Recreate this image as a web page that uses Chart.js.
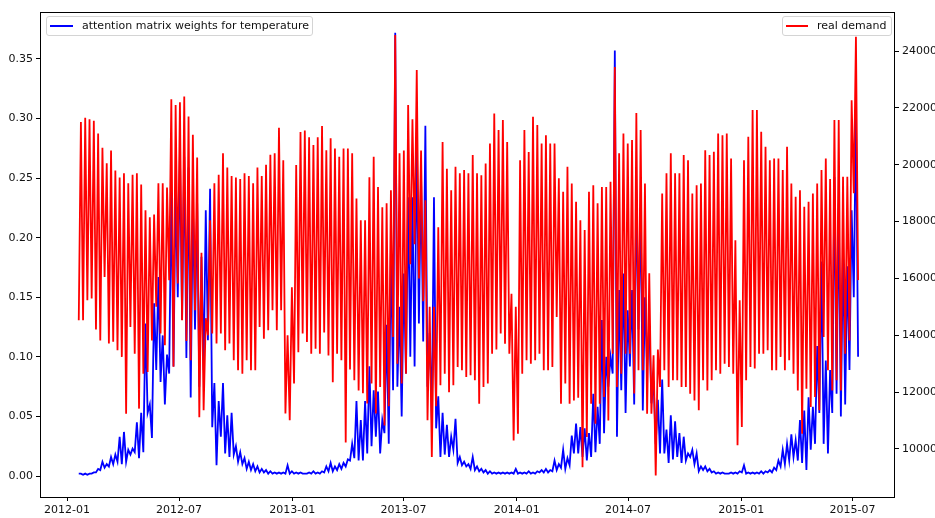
<!DOCTYPE html>
<html>
<head>
<meta charset="utf-8">
<title>attention weights vs demand</title>
<script src="https://cdn.jsdelivr.net/npm/chart.js@4.4.1/dist/chart.umd.min.js"></script>
<style>
  html, body { margin: 0; padding: 0; background: #fff; overflow: hidden; }
  #wrap { position: relative; width: 935px; height: 518px; overflow: hidden; }
  #chart { position: absolute; left: 0; top: 0; }
  .legend {
    position: absolute; top: 16px; height: 20px; box-sizing: border-box;
    border: 1px solid #d4d4d4; border-radius: 3px; background: rgba(255, 255, 255, 0.8);
    font: 11px "DejaVu Sans", sans-serif; color: #111;
  }
  .legend .line { position: absolute; left: 3px; top: 8px; width: 23px; height: 0; border-top: 2px solid; }
  .legend .txt { position: absolute; left: 35px; top: 2px; line-height: 14px; white-space: nowrap; }
</style>
</head>
<body>
<div id="wrap">
  <canvas id="chart" width="975" height="518"></canvas>
  <div class="legend" style="left:46px; width:267px;">
    <span class="line" style="border-color:#0000ff"></span>
    <span class="txt">attention matrix weights for temperature</span>
  </div>
  <div class="legend" style="left:782px; width:110px;">
    <span class="line" style="border-color:#ff0000; width:22px"></span>
    <span class="txt" style="left:34px">real demand</span>
  </div>
</div>
<script>
// one week per entry, first week starts on firstDay
const firstDay = '2012-01-20'

// real demand: weekday high and weekend low of each week (last low closes the series)
const demandHigh = [
  21500, 21650, 21600, 21550, 21100, 20600, 20050, 20500, 19800, 19550, 19700, 19350, 19650, 19700, 19300, 18400, 18150, 18250, 19350, 19350, 19200,
  22300, 22100, 22200, 22400, 21700, 21050, 20250, 16900, 14600, 18050, 19350, 19650, 20400, 19900, 19600, 19550, 19500, 19700, 19600, 19350, 19900, 19600, 20000, 20350, 20400, 21300,
  20160, 14000, 15690, 19990, 21150, 21200, 20970, 20690, 20970, 21360, 20510, 20930, 20570, 20280, 20570, 20570, 20400, 18810, 18050, 18050, 19560, 20280, 19220, 18500, 18640, 19100,
  24560, 20400, 20500, 22100, 21600, 23330, 20500, 18750, 15000, 15000, 17800, 20800, 19860, 19100, 19930, 19700, 19810, 19700, 20340, 19700, 19630, 20040, 20750, 21800, 21220, 21570, 20800,
  15460, 15000, 20160, 21220, 20450, 21690, 21400, 20750, 21040, 20750, 20750, 19520, 19050, 19930, 19340, 18700, 18050, 17700, 19050, 19280, 18640, 19220, 19220, 19400, 23440,
  20400, 21100, 20750, 20870, 21820, 21220, 19340, 16180, 13300, 13500, 18990, 19700, 20400, 19700, 19700, 20340, 20160, 18990, 19280, 19340, 20510, 20340, 20460, 21100,
  21040, 21100, 20220, 17340, 15230, 20160, 20980, 21920, 21920, 21160, 20630, 20160, 20220, 20220, 19810, 20630, 19340, 18870, 19100, 18520, 18700, 18990, 19340, 19810, 20220, 19500,
  21570, 21570, 19580, 19580, 22270, 24500
]
const demandLow = [
  14530, 14530, 15230, 15290, 14200, 13820, 16050, 13710, 13770, 13470, 13240, 11240, 14290, 13350, 11420, 12650, 12710, 13820, 15000, 14060, 13650, 15940, 12890, 15820,
  14530, 13800, 13120, 14880, 11120, 11360, 14000, 14060, 13710, 14060, 13470, 13710, 13120, 12770, 12650, 13120, 12770, 12770, 14290, 13880, 14180, 14880, 14180,
  14880, 11250, 11010, 12300, 13400, 14060, 13760, 13350, 13530, 13350, 14100, 13290, 12350, 13350, 13120, 10230, 12800, 12420, 12060, 11960, 11600, 12300, 11250, 12180, 10830, 11500,
  13940, 13000, 12300, 12650, 16500, 17200, 16000, 15200, 11010, 9720, 11500, 12240, 12650, 12000, 12240, 12880, 12770, 12530, 12590, 12420, 11590, 12180, 12300, 13350, 13500, 14060, 13700,
  13350, 10300, 10540, 12650, 13120, 13000, 13120, 13350, 12770, 12770, 12880, 14640, 11590, 12300, 11590, 11710, 11800, 9360, 10420, 11590, 10890, 11590, 11830, 11000, 13350,
  12180, 12650, 13350, 13350, 11950, 12770, 12770, 11240, 11240, 9070, 12180, 12770, 12180, 12420, 12420, 12180, 12180, 11940, 11710, 11360, 12420, 12060, 12420, 12770,
  12650, 13000, 12880, 12650, 10130, 10770, 12420, 12880, 12830, 13350, 13350, 13470, 12770, 12770, 13240, 12770, 13120, 12650, 12060, 10540, 12120, 11480, 11830, 11360, 13940, 12770,
  12060, 12420, 12060, 13350, 13820, 19000, 15940
]

// attention weights for temperature, same weekly layout
const attnHigh = [
  0.002, 0.002, 0.002, 0.003, 0.006, 0.012, 0.010, 0.016, 0.018, 0.033, 0.037, 0.022, 0.023, 0.045,
  0.053, 0.128, 0.060, 0.145, 0.167, 0.118, 0.102, 0.240, 0.240, 0.271,
  0.268, 0.259, 0.232, 0.229, 0.184, 0.223, 0.241, 0.078, 0.063, 0.078, 0.051, 0.053,
  0.025, 0.020, 0.015, 0.012, 0.010, 0.008, 0.006, 0.005, 0.004, 0.003, 0.003,
  0.003, 0.009, 0.004, 0.003, 0.003, 0.002, 0.003, 0.004, 0.003, 0.004, 0.008, 0.011, 0.008, 0.010, 0.011, 0.014, 0.027, 0.063, 0.047, 0.063, 0.092, 0.072, 0.071, 0.047, 0.127,
  0.193, 0.372, 0.142, 0.170, 0.234, 0.234, 0.288, 0.251, 0.294, 0.120, 0.234, 0.067, 0.053, 0.043, 0.033, 0.048, 0.016, 0.012, 0.010, 0.016, 0.008, 0.006, 0.005, 0.004, 0.003, 0.003, 0.003, 0.003,
  0.003, 0.006, 0.003, 0.003, 0.004, 0.003, 0.004, 0.005, 0.006, 0.005, 0.013, 0.010, 0.022, 0.015, 0.034, 0.044, 0.041, 0.040, 0.036, 0.069, 0.058, 0.131, 0.100,
  0.100, 0.357, 0.156, 0.170, 0.139, 0.156, 0.240, 0.226, 0.150, 0.128, 0.080, 0.064, 0.081, 0.039, 0.051, 0.046, 0.036, 0.033, 0.019, 0.022, 0.019, 0.008, 0.008, 0.006, 0.004, 0.003,
  0.003, 0.002, 0.003, 0.003, 0.004, 0.009, 0.003, 0.003, 0.003, 0.004, 0.004, 0.005, 0.007, 0.013, 0.022, 0.027, 0.035, 0.030, 0.047, 0.055, 0.066, 0.058, 0.109, 0.180,
  0.097, 0.089, 0.251, 0.229, 0.193, 0.176, 0.223, 0.307
]
const attnLow = [
  0.002, 0.001, 0.001, 0.002, 0.003, 0.005, 0.007, 0.008, 0.010, 0.012, 0.010, 0.012, 0.018, 0.020,
  0.015, 0.020, 0.053, 0.032, 0.089, 0.079, 0.060, 0.086, 0.092, 0.150,
  0.131, 0.099, 0.066, 0.123, 0.075, 0.089, 0.114, 0.041, 0.009, 0.033, 0.019, 0.016, 0.018,
  0.012, 0.010, 0.006, 0.005, 0.004, 0.003, 0.003, 0.002, 0.002, 0.002,
  0.002, 0.002, 0.002, 0.002, 0.002, 0.002, 0.002, 0.002, 0.002, 0.002, 0.003, 0.004, 0.004, 0.005, 0.006, 0.008, 0.013, 0.015, 0.013, 0.013, 0.019, 0.025, 0.033, 0.019, 0.036,
  0.027, 0.072, 0.075, 0.050, 0.086, 0.100, 0.092, 0.128, 0.113, 0.075, 0.047, 0.040, 0.016, 0.018, 0.016, 0.022, 0.011, 0.009, 0.008, 0.006, 0.005, 0.004, 0.003, 0.002, 0.002, 0.002, 0.002, 0.002,
  0.002, 0.002, 0.002, 0.002, 0.002, 0.002, 0.002, 0.003, 0.003, 0.003, 0.004, 0.005, 0.007, 0.006, 0.009, 0.019, 0.019, 0.016, 0.013, 0.016, 0.020, 0.027, 0.036,
  0.075, 0.086, 0.033, 0.072, 0.053, 0.092, 0.060, 0.123, 0.055, 0.092, 0.061, 0.027, 0.019, 0.019, 0.011, 0.014, 0.016, 0.011, 0.013, 0.016, 0.010, 0.004, 0.005, 0.004, 0.003, 0.002,
  0.002, 0.002, 0.002, 0.002, 0.002, 0.003, 0.002, 0.002, 0.002, 0.002, 0.002, 0.003, 0.003, 0.005, 0.008, 0.010, 0.013, 0.016, 0.013, 0.011, 0.005, 0.022, 0.027, 0.053,
  0.027, 0.019, 0.053, 0.069, 0.050, 0.060, 0.089, 0.150, 0.100
]

const dateTicks = ['2012-01', '2012-07', '2013-01', '2013-07', '2014-01', '2014-07', '2015-01', '2015-07']
const attnTicks = [0, 0.05, 0.10, 0.15, 0.20, 0.25, 0.30, 0.35]
const demandTicks = [10000, 12000, 14000, 16000, 18000, 20000, 22000, 24000]

function dayNumber(s) {
  const p = s.split('-').map(Number)
  return Date.UTC(p[0], p[1] - 1, p[2] || 1) / 86400000
}

function weeklyPoints(lows, highs) {
  const start = dayNumber(firstDay)
  const pts = []
  lows.forEach(function (lo, i) {
    pts.push({ x: start + 7 * i, y: lo })
    if (i < highs.length) pts.push({ x: start + 7 * i + 3.5, y: highs[i] })
  })
  return pts
}

// black box round the plot area, drawn over the lines like matplotlib spines
const frame = {
  id: 'frame',
  afterDatasetsDraw(chart) {
    const a = chart.chartArea
    const c = chart.ctx
    c.save()
    c.strokeStyle = '#000'
    c.lineWidth = 1
    c.strokeRect(a.left + 0.5, a.top + 0.5, a.right - a.left - 1, a.bottom - a.top)
    c.restore()
  }
}

Chart.defaults.font.family = '"DejaVu Sans", sans-serif'
Chart.defaults.font.size = 11
Chart.defaults.color = '#111'

const tickGrid = { drawOnChartArea: false, drawTicks: true, tickLength: 4, color: '#000', lineWidth: 1 }

new Chart(document.getElementById('chart'), {
  type: 'line',
  data: {
    datasets: [
      {
        label: 'real demand',
        data: weeklyPoints(demandLow, demandHigh),
        yAxisID: 'yDemand',
        borderColor: '#ff0000',
        borderWidth: 1.8,
        pointRadius: 0,
        tension: 0,
        order: 0
      },
      {
        label: 'attention matrix weights for temperature',
        data: weeklyPoints(attnLow, attnHigh),
        yAxisID: 'yAttn',
        borderColor: '#0000ff',
        borderWidth: 1.8,
        pointRadius: 0,
        tension: 0,
        order: 1
      }
    ]
  },
  options: {
    responsive: false,
    animation: false,
    events: [],
    layout: { padding: { top: 12, left: 0, right: 0, bottom: 0 } },
    plugins: { legend: { display: false }, tooltip: { enabled: false } },
    scales: {
      x: {
        type: 'linear',
        min: dayNumber('2011-11-18'),
        max: dayNumber('2015-09-08'),
        afterBuildTicks: function (s) { s.ticks = dateTicks.map(function (t) { return { value: dayNumber(t) } }) },
        afterFit: function (s) { s.height = 21 },
        grid: tickGrid,
        border: { display: false },
        ticks: {
          autoSkip: false, maxRotation: 0, padding: 3,
          callback: function (v, i) { return dateTicks[i] }
        }
      },
      yAttn: {
        type: 'linear',
        position: 'left',
        min: -0.0176,
        max: 0.3894,
        afterBuildTicks: function (s) { s.ticks = attnTicks.map(function (v) { return { value: v } }) },
        afterFit: function (s) { s.width = 40 },
        grid: tickGrid,
        border: { display: false },
        ticks: { padding: 3, callback: function (v) { return v.toFixed(2) } }
      },
      yDemand: {
        type: 'linear',
        position: 'right',
        min: 8311,
        max: 25372,
        afterBuildTicks: function (s) { s.ticks = demandTicks.map(function (v) { return { value: v } }) },
        afterFit: function (s) { s.width = 80 },
        grid: tickGrid,
        border: { display: false },
        ticks: { padding: 3, callback: function (v) { return String(v) } }
      }
    }
  },
  plugins: [frame]
})
</script>
</body>
</html>
